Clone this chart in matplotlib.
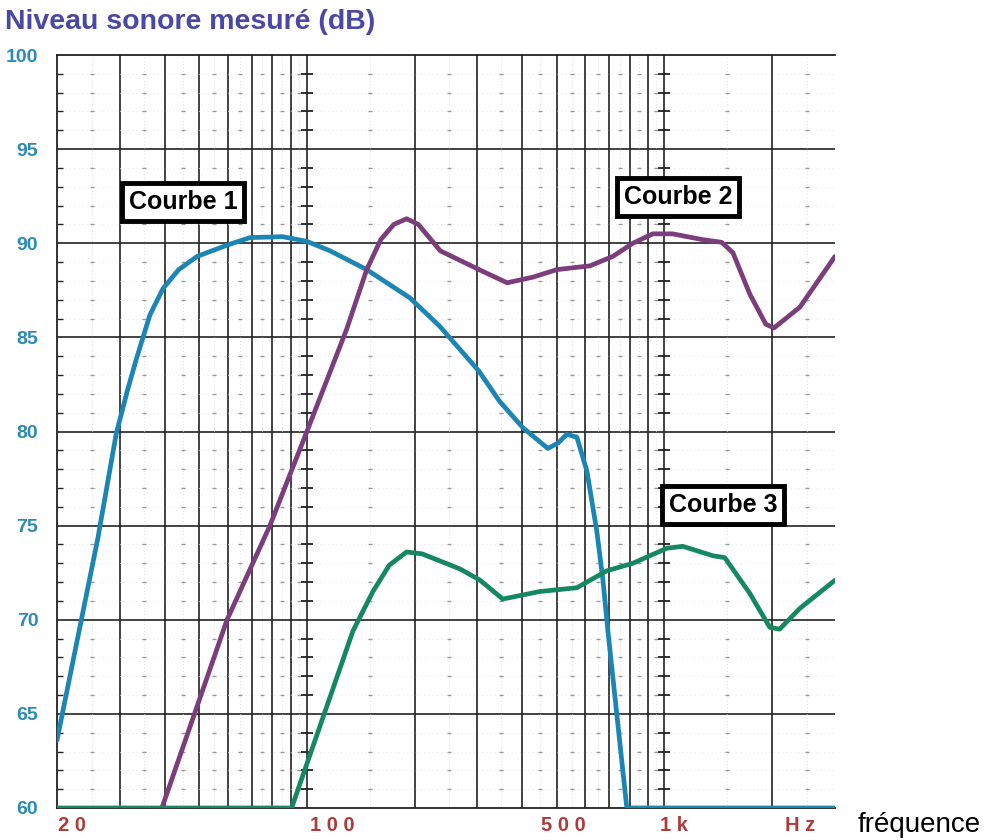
import numpy as np
import matplotlib
matplotlib.use("Agg")
from matplotlib import pyplot as plt
from matplotlib.transforms import blended_transform_factory

plt.rcParams['font.family'] = ['Liberation Sans', 'DejaVu Sans']

# Courbe 1 (bleu)
f1 = [20, 26, 29.3, 31.5, 33.4, 36.4, 39.6, 43.8, 49.3, 59.8, 69.3, 85.5, 100, 116, 147, 194, 235,
      303, 346, 402, 472, 505, 533, 569, 607, 647, 673, 695, 785, 3000]
db1 = [63.6, 74.3, 79.9, 82.2, 83.9, 86.2, 87.6, 88.6, 89.3, 89.9, 90.3, 90.35, 90.1, 89.6, 88.6, 87.1, 85.6,
       83.2, 81.6, 80.2, 79.1, 79.4, 79.85, 79.7, 77.9, 74.7, 72.1, 69.4, 60, 60]

# Courbe 2 (violet)
f2 = [39.3, 59.8, 78.8, 100, 129, 147, 161, 175, 190, 205, 236, 303, 363, 429, 500, 619, 717, 816, 928,
      1054, 1272, 1446, 1554, 1733, 1921, 2025, 2391, 3000]
db2 = [60, 70, 75, 80, 85.4, 88.6, 90.2, 91.0, 91.3, 91.0, 89.6, 88.6, 87.9, 88.2, 88.6, 88.8, 89.3, 90.0, 90.5,
       90.5, 90.2, 90.05, 89.5, 87.3, 85.7, 85.5, 86.6, 89.3]

# Courbe 3 (vert)
f3 = [20, 90.6, 134.5, 153, 170, 190, 210, 268, 305, 353, 448, 569, 690, 816, 1016, 1126, 1366, 1475,
      1733, 1971, 2100, 2391, 3000]
db3 = [60, 60, 69.4, 71.5, 72.9, 73.6, 73.5, 72.7, 72.1, 71.1, 71.5, 71.7, 72.6, 73.0, 73.8, 73.9, 73.4, 73.3,
       71.4, 69.6, 69.5, 70.6, 72.1]

x_labels = ["2 0", "1 0 0", "5 0 0", "1 k", "H z"]
x_label_pos = [22, 118, 520, 1060, 2400]
y_ticks = [60, 65, 70, 75, 80, 85, 90, 95, 100]

x_major = [30, 40, 50, 60, 70, 80, 90, 100, 200, 300, 400, 500, 600, 700, 800, 900, 1000, 2000]
x_minor = [25, 35, 45, 55, 65, 75, 85, 95, 150, 250, 350, 450, 550, 650, 750, 850, 950, 1500, 2500]
y_minor = [d for d in range(61, 100) if d % 5 != 0]

fig = plt.figure(figsize=(9.88, 8.4), dpi=100)
ax = fig.add_axes([57 / 988, 32 / 840, 778 / 988, 753 / 840])
ax.set_xscale('log')
ax.set_xlim(20, 3000)
ax.set_ylim(60, 100)

# grille
for x in x_major:
    ax.axvline(x, color='#222222', lw=1.2, zorder=1)
for y in y_ticks[1:-1]:
    ax.axhline(y, color='#222222', lw=1.2, zorder=1)
for x in x_minor:
    ax.axvline(x, color='#d5d5d5', lw=0.6, ls=(0, (1, 3)), zorder=1)
for y in y_minor:
    ax.axhline(y, color='#e2e2e2', lw=0.6, ls=(0, (1, 4)), zorder=1)
gx, gy = np.meshgrid(x_minor, y_minor)
ax.plot(gx.ravel(), gy.ravel(), ls='none', marker='_', ms=3, mew=1, color='#999999', zorder=1)
for x in [100, 1000]:
    ax.plot([x] * len(y_minor), y_minor, ls='none', marker='_', ms=8, mew=1.3, color='#222222', zorder=1)

ax.plot(f1, db1, color='#1b86b4', lw=3.4, solid_capstyle='round', solid_joinstyle='round', zorder=3)
ax.plot(f2, db2, color='#7b3d7b', lw=3.4, solid_capstyle='round', solid_joinstyle='round', zorder=3)
ax.plot(f3, db3, color='#16885f', lw=3.4, solid_capstyle='round', solid_joinstyle='round', zorder=3)

box = dict(boxstyle='square,pad=0.28', fc='white', ec='black', lw=3.5)
ax.text(45, 92.2, "Courbe 1", ha='center', va='center', fontsize=18, fontweight='bold', bbox=box, zorder=5)
ax.text(1092, 92.45, "Courbe 2", ha='center', va='center', fontsize=18, fontweight='bold', bbox=box, zorder=5)
ax.text(1456, 76.1, "Courbe 3", ha='center', va='center', fontsize=18, fontweight='bold', bbox=box, zorder=5)

ax.spines['right'].set_visible(False)
for s in ['left', 'top', 'bottom']:
    ax.spines[s].set_color('#222222')
    ax.spines[s].set_linewidth(1.3)

ax.set_yticks(y_ticks)
ax.set_yticks(y_minor, minor=True)
ax.set_yticklabels([str(v) for v in y_ticks], color='#2b8ab6', fontsize=14, fontweight='bold')
ax.tick_params(axis='y', which='major', length=0, pad=13.5)
ax.tick_params(axis='y', which='minor', direction='in', length=4, width=1, color='#222222')
ax.set_xticks([])
ax.set_xticks([], minor=True)

trans = blended_transform_factory(ax.transData, ax.transAxes)
for lab, pos in zip(x_labels, x_label_pos):
    ax.text(pos, -0.011, lab, transform=trans, ha='center', va='top', color='#b03a3a',
            fontsize=14.5, fontweight='bold')

fig.text(858 / 988, 1 - 825 / 840, "fréquence", ha='left', va='center', fontsize=20, color='black')
fig.text(5 / 988, 1 - 22 / 840, "Niveau sonore mesuré (dB)", ha='left', va='center',
         fontsize=20.5, fontweight='bold', color='#4a48a4')

fig.savefig("out.png", dpi=100)
